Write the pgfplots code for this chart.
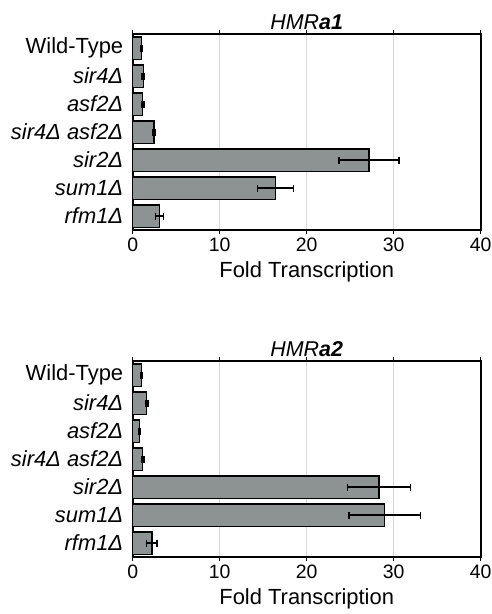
\documentclass[border=0pt]{standalone}
\usepackage{pgfplots}
\pgfplotsset{compat=1.18}
\usepackage{fontspec}
\setmainfont{Liberation Sans}
\definecolor{barfill}{RGB}{141,147,146}
\definecolor{gridgray}{RGB}{215,215,215}
\pgfplotsset{
  fcstyle/.style={
    scale only axis,
    width=348bp, height=196bp,
    xbar, bar width=0.8,
    xmin=0, xmax=40,
    ymin=-0.5, ymax=6.5,
    y dir=reverse,
    xtick={0,10,20,30,40},
    ytick={0,1,2,3,4,5,6},
    yticklabels={Wild-Type,\textit{sir4Δ},\textit{asf2Δ},\textit{sir4Δ asf2Δ},\textit{sir2Δ},\textit{sum1Δ},\textit{rfm1Δ}},
    minor ytick={-0.5,0.5,1.5,2.5,3.5,4.5,5.5,6.5},
    ytick style={draw=none},
    minor tick length=4bp,
    tick align=outside,
    xtick style={black, line width=0.6bp},
    major tick length=4bp,
    every minor tick/.style={black, line width=0.6bp},
    xmajorgrids, grid style={gridgray, line width=0.6bp},
    axis line style={line width=1.6bp},
    tick label style={font=\fontsize{19.5}{22}\selectfont},
    /pgf/number format/assume math mode=true,
    yticklabel style={font=\fontsize{22}{24}\selectfont, xshift=-2bp},
    xlabel={Fold Transcription},
    xlabel style={font=\fontsize{22}{24}\selectfont, yshift=-3bp},
    title style={font=\fontsize{21.5}{24}\selectfont, yshift=-5bp},
    clip=false,
  },
  fcbar/.style={
    fill=barfill, draw=black, line width=1.4bp,
    error bars/.cd, x dir=both, x explicit,
    error mark=|,
    error bar style={line width=1.3bp, black},
    error mark options={line width=1.3bp, mark size=3.5bp, black},
  },
}
\begin{document}
\begin{tikzpicture}
\path[use as bounding box] (0,0) rectangle (492bp,-614bp);
\begin{axis}[fcstyle, at={(132.7bp,-230bp)}, anchor=south west,
  title={\textit{HMR\textbf{a1}}}]
\addplot[fcbar] coordinates {
  (1.02,0) +- (0.12,0)
  (1.22,1) +- (0.15,0)
  (1.15,2) +- (0.15,0)
  (2.45,3) +- (0.15,0)
  (27.15,4) +- (3.45,0)
  (16.4,5) +- (2.05,0)
  (3.06,6) +- (0.45,0)
};
\end{axis}
\begin{axis}[fcstyle, at={(132.7bp,-557bp)}, anchor=south west,
  title={\textit{HMR\textbf{a2}}}]
\addplot[fcbar] coordinates {
  (1.0,0) +- (0.12,0)
  (1.6,1) +- (0.15,0)
  (0.77,2) +- (0.1,0)
  (1.15,3) +- (0.15,0)
  (28.3,4) +- (3.6,0)
  (28.95,5) +- (4.1,0)
  (2.2,6) +- (0.6,0)
};
\end{axis}
\end{tikzpicture}
\end{document}
